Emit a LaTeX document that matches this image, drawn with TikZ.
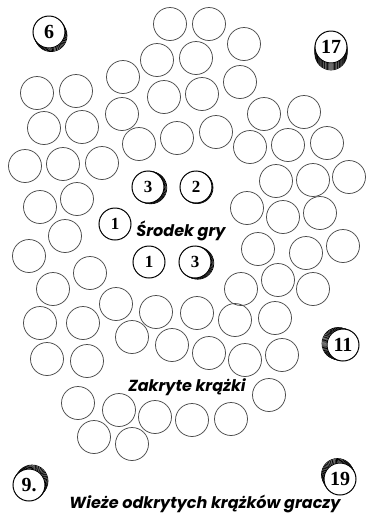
\documentclass[tikz,border=0pt]{standalone}
\usepackage{fontspec}
\newfontfamily\numfont{Liberation Serif}
\newfontfamily\lblfont{Poppins}
\begin{document}
\begin{tikzpicture}[x=1pt,y=-1pt,
  disc/.style={circle,draw=black!70,line width=0.75pt,minimum size=33pt,inner sep=0pt},
  coin/.style={circle,draw=black,line width=1pt,fill=white,minimum size=32pt,inner sep=0pt,font=\numfont\bfseries\fontsize{17}{17}\selectfont},
  tower/.style={coin,font=\numfont\bfseries\fontsize{20}{20}\selectfont},
  rim/.style={draw=black,line width=0.7pt,fill=white},
  lbl/.style={font=\lblfont\bfseries\itshape\fontsize{16}{16}\selectfont,inner sep=0pt}]
\useasboundingbox (0,0) rectangle (365,515);
% plain discs
\foreach \n/\x/\y in {
 1/170/24, 2/209/24, 3/244/44, 4/157/60, 5/196/58, 6/123/77, 7/240/82, 8/164/97,
 9/202/94, 10/37/93, 11/76/91, 12/122/114, 13/264/114, 14/304/112, 15/44/128, 16/82/127,
 17/139/144, 18/177/138, 19/216/132, 20/250/147, 21/288/145, 22/327/143, 23/25/166, 24/63/164,
 25/102/163, 26/276/181, 27/313/180, 28/349/177, 29/40/207, 30/77/199, 31/247/208, 32/283/217,
 33/320/213, 34/65/236, 35/29/256, 36/258/249, 37/306/253, 38/343/246, 39/90/273, 40/53/289,
 41/241/289, 42/278/280, 43/313/289, 44/116/304, 45/156/312, 46/197/313, 47/235/320, 48/275/318,
 49/40/323, 50/83/323, 51/132/337, 52/172/345, 53/209/353, 54/245/360, 55/282/355, 56/47/359,
 57/87/361, 58/269/395, 59/78/403, 60/119/410, 61/155/417, 62/192/420, 63/231/419, 64/94/437,
 65/132/444}
 \node[disc] (d\n) at (\x,\y) {};
% coin stacks (rims)
\foreach \i in {4,3,2,1} \draw[rim] (49+0.5*\i,32+0.9*\i) circle (16pt);
\foreach \i in {7,6,5,4,3,2,1} \draw[rim] (331,47+1.0*\i) circle (16pt);
\foreach \i in {5,4,3,2,1} \draw[rim] (343-1.0*\i,345-0.3*\i) circle (16pt);
\foreach \i in {5,4,3,2,1} \draw[rim] (29+0.6*\i,485-0.8*\i) circle (16pt);
\foreach \i in {5,4,3,2,1} \draw[rim] (340-0.5*\i,479-0.9*\i) circle (16pt);
\foreach \i in {4,3,2,1} \draw[rim] (148+0.7*\i,187+0.2*\i) circle (16pt);
\foreach \i in {2,1} \draw[rim] (196+0.5*\i,187+0.3*\i) circle (16pt);
\foreach \i in {4,3,2,1} \draw[rim] (195+0.7*\i,262+0.3*\i) circle (16pt);
% coins
\node[tower] (t6) at (49,32) {6};
\node[tower] (t17) at (331,47) {17};
\node[tower] (t11) at (343,345) {11};
\node[tower] (t9) at (29,485) {9.};
\node[tower] (t19) at (340,479) {19};
\node[coin] (m3a) at (148,187) {3};
\node[coin] (m2) at (196,187) {2};
\node[coin] (m1a) at (115,224) {1};
\node[coin] (m1b) at (149,262) {1};
\node[coin] (m3b) at (195,262) {3};
% labels
\node[lbl] (srodek) at (181,231) {Środek gry};
\node[lbl] (zakryte) at (187,387) {Zakryte krążki};
\node[lbl] (wieze) at (205,504) {Wieże odkrytych krążków graczy};
\end{tikzpicture}
\end{document}
